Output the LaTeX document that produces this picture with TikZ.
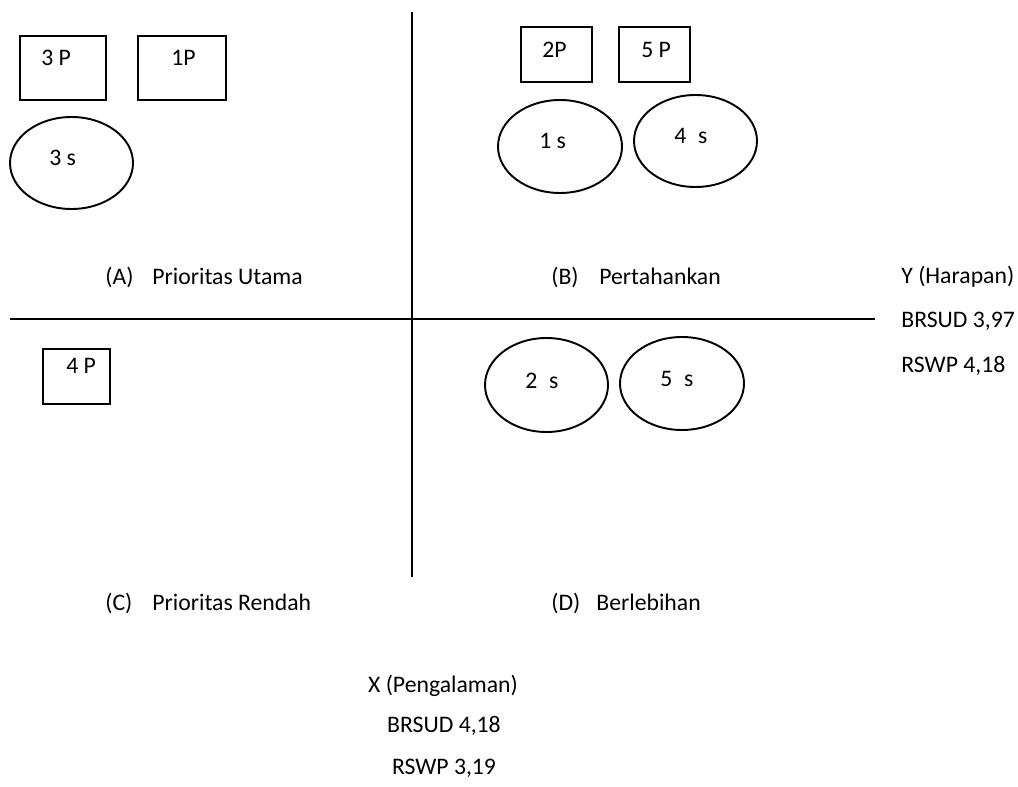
\documentclass[tikz,border=0pt]{standalone}
\usepackage{fontspec}
\setmainfont{Carlito}
\usepackage{tikz}
\tikzset{every picture/.append style={font=\fontsize{13.5}{16}\selectfont}}
\tikzset{
  pbox/.style={line width=0.6pt},
  pboxbold/.style={line width=1.2pt},
  sring/.style={line width=1.1pt},
  txt/.style={anchor=base west,inner sep=0pt},
  ctxt/.style={anchor=base,inner sep=0pt}
}

\begin{document}
\begin{tikzpicture}[x=0.02cm,y=-0.02cm]
    \useasboundingbox (0,0) rectangle (1018,787);
    % axes
    \draw[line width=0.7pt] (412,12) -- (412,577);
    \draw[line width=0.7pt] (10,319) -- (875,319);
    % quadrant A
    \draw[pbox] (20,36) rectangle (106,100);
    \draw[pboxbold] (138,36) rectangle (226,100);
    \draw[sring] (71.5,163) ellipse [x radius=61.5, y radius=46];
    \node[txt] (p3) at (41,66) {3 P};
    \node[txt] (p1) at (171,66) {1P};
    \node[txt] (s3) at (49,166) {3 s};
    % quadrant B
    \draw[pbox] (521,27) rectangle (592,82);
    \draw[pbox] (619,27) rectangle (690,82);
    \draw[sring] (560,146.5) ellipse [x radius=62, y radius=46.5];
    \draw[sring] (695.5,141) ellipse [x radius=61.5, y radius=46];
    \node[txt] (p2) at (542,58) {2P};
    \node[txt] (p5) at (641,58) {5 P};
    \node[txt] (s1) at (539,149) {1 s};
    \node[txt] (s4) at (674,144) {4\enspace s};
    % quadrant C
    \draw[pbox] (43,349) rectangle (110,404);
    \node[txt] (p4) at (66,374) {4 P};
    % quadrant D
    \draw[sring] (546.5,385) ellipse [x radius=61.5, y radius=47];
    \draw[sring] (682,383.5) ellipse [x radius=62, y radius=46.5];
    \node[txt] (s2) at (525,388) {2\enspace s};
    \node[txt] (s5) at (660,386) {5\enspace s};
    % quadrant names
    \node[txt] (qa) at (105,285) {(A)};
    \node[txt] (qan) at (152,285) {Prioritas Utama};
    \node[txt] (qb) at (551,285) {(B)};
    \node[txt] (qbn) at (599,285) {Pertahankan};
    \node[txt] (qc) at (105,610) {(C)};
    \node[txt] (qcn) at (152,610) {Prioritas Rendah};
    \node[txt] (qd) at (551,610) {(D)};
    \node[txt] (qdn) at (596,610) {Berlebihan};
    % Y values
    \node[txt] (yh) at (901,284) {Y (Harapan)};
    \node[txt] (yb) at (901,328) {BRSUD 3,97};
    \node[txt] (yr) at (901,373) {RSWP 4,18};
    % X values
    \node[ctxt] (xh) at (443,692) {X (Pengalaman)};
    \node[ctxt] (xb) at (444,732) {BRSUD 4,18};
    \node[ctxt] (xr) at (444,774) {RSWP 3,19};
\end{tikzpicture}
\end{document}
